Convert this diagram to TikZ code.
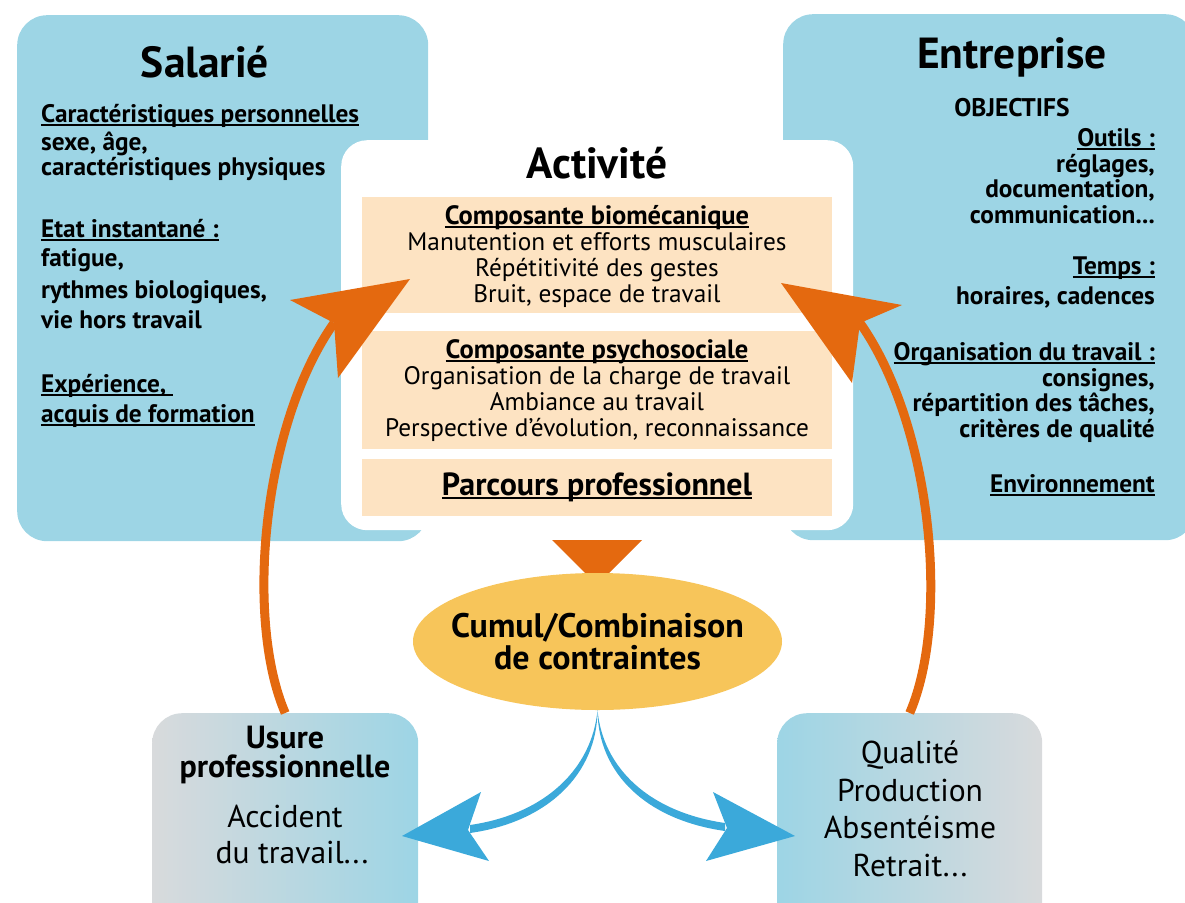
\documentclass[tikz,border=0pt]{standalone}
\usepackage{fontspec}
\setmainfont{PT Sans}
\usetikzlibrary{shapes.geometric}

\definecolor{panelblue}{RGB}{157,213,229}
\definecolor{peach}{RGB}{253,227,194}
\definecolor{flame}{RGB}{228,105,15}
\definecolor{sun}{RGB}{247,197,90}
\definecolor{sky}{RGB}{59,169,218}
\definecolor{mist}{RGB}{216,218,220}

\newsavebox\undlbox
\newcommand\undl[1]{\sbox\undlbox{#1}\rlap{\rule[-0.14em]{\wd\undlbox}{0.07em}}\usebox\undlbox}

\tikzset{
  panel/.style={fill=panelblue, rounded corners=30pt, inner sep=0, anchor=north west},
  sheet/.style={fill=white, rounded corners=26pt, inner sep=0, anchor=north west},
  band/.style={fill=peach, inner sep=0, anchor=north west},
  outcome/.style={rounded corners=30pt, inner sep=0, anchor=north west},
  bigtitle/.style={inner sep=0, font=\fontsize{43.5}{46}\selectfont\bfseries},
  side/.style={inner sep=0, font=\fontsize{25.3}{28}\selectfont\bfseries},
  bandhead/.style={inner sep=0, font=\fontsize{26.5}{28}\selectfont\bfseries},
  bandtxt/.style={inner sep=0, font=\fontsize{25.3}{28}\selectfont},
  lowtxt/.style={inner sep=0, font=\fontsize{31.6}{34}\selectfont},
  lowhead/.style={inner sep=0, font=\fontsize{32}{34}\selectfont\bfseries},
  bubbletxt/.style={inner sep=0, anchor=base, font=\fontsize{34}{36}\selectfont\bfseries},
  shaftO/.style={draw=flame, line width=9pt},
}

\begin{document}
\begin{tikzpicture}[x=1pt,y=-1pt]
\useasboundingbox (0,0) rectangle (1185,902);
\clip (0,0) rectangle (1185,902);

% side panels
\node[panel, minimum width=411pt, minimum height=526pt] (salarie) at (17,15) {};
\node[panel, minimum width=412pt, minimum height=526pt] (entreprise) at (783,14) {};

% central activity sheet
\node[sheet, minimum width=512pt, minimum height=390pt] (activite) at (341,140) {};
\node[band, minimum width=470pt, minimum height=116pt] (bio) at (362,197) {};
\node[band, minimum width=470pt, minimum height=118pt] (psy) at (362,331) {};
\node[band, minimum width=470pt, minimum height=57pt] (parc) at (362,459) {};

% Salarié texts
\node[bigtitle] (t-sal) at (205,62) {Salarié};
\node[side, anchor=base west] (s1) at (41,122) {\undl{Caractéristiques personnelles}};
\node[side, anchor=base west] (s2) at (41,150) {sexe, âge,};
\node[side, anchor=base west] (s3) at (41,175) {caractéristiques physiques};
\node[side, anchor=base west] (s4) at (41,237) {\undl{Etat instantané :}};
\node[side, anchor=base west] (s5) at (41,266) {fatigue,};
\node[side, anchor=base west] (s6) at (41,298) {rythmes biologiques,};
\node[side, anchor=base west] (s7) at (41,328) {vie hors travail};
\node[side, anchor=base west] (s8) at (41,392) {\undl{Expérience, }};
\node[side, anchor=base west] (s9) at (41,422) {\undl{acquis de formation}};

% Entreprise texts
\node[bigtitle] (t-ent) at (1012,57) {Entreprise};
\node[inner sep=0, font=\fontsize{25.5}{28}\selectfont\bfseries] (obj) at (1012,108) {OBJECTIFS};
\node[side, anchor=base east] (e1) at (1155,146) {\undl{Outils :}};
\node[side, anchor=base east] (e2) at (1155,172) {réglages,};
\node[side, anchor=base east] (e3) at (1155,197) {documentation,};
\node[side, anchor=base east] (e4) at (1155,223) {communication...};
\node[side, anchor=base east] (e5) at (1155,274) {\undl{Temps :}};
\node[side, anchor=base east] (e6) at (1155,304) {horaires, cadences};
\node[side, anchor=base east] (e7) at (1155,360) {\undl{Organisation du travail :}};
\node[side, anchor=base east] (e8) at (1155,386) {consignes,};
\node[side, anchor=base east] (e9) at (1155,411) {répartition des tâches,};
\node[side, anchor=base east] (e10) at (1155,437) {critères de qualité};
\node[side, anchor=base east] (e11) at (1155,492) {\undl{Environnement}};

% Activité texts
\node[inner sep=0, font=\fontsize{43.5}{46}\selectfont\bfseries] (t-act) at (597,163) {Activité};
\node[bandhead, anchor=base] (b1) at (597,224) {\undl{Composante biomécanique}};
\node[bandtxt, anchor=base] (b2) at (597,250) {Manutention et efforts musculaires};
\node[bandtxt, anchor=base] (b3) at (597,276) {Répétitivité des gestes};
\node[bandtxt, anchor=base] (b4) at (597,302) {Bruit, espace de travail};
\node[bandhead, anchor=base] (p1) at (597,358) {\undl{Composante psychosociale}};
\node[bandtxt, anchor=base] (p2) at (597,384) {Organisation de la charge de travail};
\node[bandtxt, anchor=base] (p3) at (597,410) {Ambiance au travail};
\node[bandtxt, anchor=base] (p4) at (597,436) {Perspective d’évolution, reconnaissance};
\node[inner sep=0, font=\fontsize{32}{34}\selectfont\bfseries, anchor=base] (pc) at (597,495) {\undl{Parcours professionnel}};

% activity feeds the combination of constraints
\fill[flame] (552,540) -- (642,540) -- (597,585) -- cycle;
\node[ellipse, fill=sun, minimum width=369pt, minimum height=137pt, inner sep=0] (cumul) at (597.5,641.5) {};
\node[bubbletxt] (cumul-a) at (597.5,637) {Cumul/Combinaison};
\node[bubbletxt] (cumul-b) at (597.5,669) {de contraintes};

% outcome boxes
\node[outcome, left color=mist, right color=panelblue, minimum width=266pt, minimum height=230pt] (usure) at (152,713) {};
\node[outcome, left color=panelblue, right color=mist, minimum width=265pt, minimum height=230pt] (result) at (777,713) {};

\node[lowhead, anchor=base] (u1) at (285,748) {Usure};
\node[lowhead, anchor=base] (u2) at (285,777) {professionnelle};
\node[lowtxt, anchor=base] (u3) at (285,827) {Accident};
\node[lowtxt, anchor=base] (u4) at (292,863) {du travail...};

\node[lowtxt, anchor=base] (r1) at (910,763) {Qualité};
\node[lowtxt, anchor=base] (r2) at (910,801) {Production};
\node[lowtxt, anchor=base] (r3) at (910,838) {Absentéisme};
\node[lowtxt, anchor=base] (r4) at (910,876) {Retrait...};

% orange feedback arrows
\coordinate (lnotch) at (334,323);
\coordinate (rnotch) at (860,323);
\draw[shaftO] (usure.north) .. controls (245,620) and (262,425) .. (lnotch);
\draw[shaftO] (result.north) .. controls (950,620) and (932,425) .. (rnotch);
\fill[flame] (410,279) -- (290,300) -- (lnotch) -- (338,378) -- cycle;
\fill[flame] (781,283) -- (902,305) -- (rnotch) -- (852,383) -- cycle;

% blue consequence arrows, tapering out of the bubble
\coordinate (bl) at (468,830);
\coordinate (br) at (727,828);
\fill[sky] (cumul.south) .. controls (592,768) and (546,814) .. (470,825)
  -- (470,833) .. controls (548,822) and (597,774) .. (cumul.south);
\fill[sky] (cumul.south) .. controls (603,768) and (649,812) .. (725,823)
  -- (725,831) .. controls (647,820) and (598,774) .. (cumul.south);
\fill[sky] (402,836) -- (481,792) -- (bl) -- (489,861) -- cycle;
\fill[sky] (795,836) -- (713,792) -- (br) -- (706,861) -- cycle;
\end{tikzpicture}
\end{document}
